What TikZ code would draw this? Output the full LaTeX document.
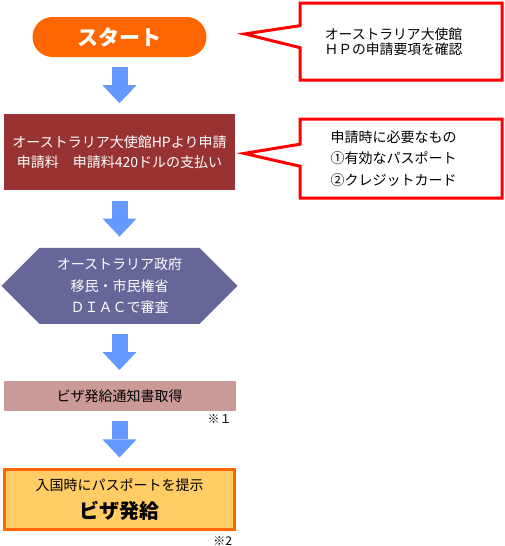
\documentclass[tikz,border=0pt]{standalone}
\usepackage{fontspec}
\setmainfont{Noto Sans CJK JP}
\usetikzlibrary{shapes.geometric, shapes.symbols, shapes.callouts, arrows.meta, positioning}
\definecolor{startorange}{HTML}{FF6600}
\definecolor{applyred}{HTML}{993333}
\definecolor{reviewpurple}{HTML}{666699}
\definecolor{noticepink}{HTML}{CC9999}
\definecolor{issueyellow}{HTML}{FFCC66}
\definecolor{flowblue}{HTML}{6699FF}
\definecolor{bubblered}{HTML}{FF0000}
% pushes callout text a little to the left
\newcommand{\padr}{\kern15pt}

\begin{document}
\begin{tikzpicture}[
    node distance=57pt,
    stepbox/.style={rectangle, minimum width=231pt, align=center, inner sep=0pt},
    bubble/.style={rectangle callout, draw=bubblered, line width=3pt, fill=white, minimum width=202pt, align=center, callout pointer width=22pt, inner sep=0pt},
    flow/.style={draw=flowblue, line width=16pt, shorten <=10pt, shorten >=11pt, -{Triangle[width=34pt, length=18pt, line width=0pt]}},
    note/.style={inner sep=0pt, font=\fontsize{12}{12}\selectfont}
]
\path[use as bounding box, fill=white] (0,0) rectangle (505pt,-546pt);

\node[rectangle, rounded corners=20pt, fill=startorange, text=white, minimum width=174pt, minimum height=40pt, font=\fontsize{21}{21}\selectfont\bfseries] (start) at (119.5pt,-37pt) {スタート};
\node[stepbox, below=of start, fill=applyred, text=white, minimum height=76pt, font=\fontsize{14}{20}\selectfont] (apply) {オーストラリア大使館HPより申請\\申請料　申請料420ドルの支払い};
\node[signal, signal to=west and east, signal pointer angle=90, below=of apply, fill=reviewpurple, text=white, minimum width=236pt, minimum height=76pt, align=center, inner sep=0pt, font=\fontsize{14}{21.5}\selectfont] (review) {オーストラリア政府\\移民・市民権省\\ＤＩＡＣで審査};
\node[stepbox, below=of review, fill=noticepink, minimum width=232pt, minimum height=30pt, font=\fontsize{14}{14}\selectfont] (notice) {ビザ発給通知書取得};
\node[stepbox, below=of notice, fill=issueyellow, draw=startorange, line width=3pt, minimum width=229.5pt, minimum height=59.5pt] (issue) {{\fontsize{14}{14}\selectfont 入国時にパスポートを提示}\\[8pt]{\fontsize{20}{20}\selectfont\bfseries ビザ発給}};

\node[bubble, minimum height=77pt, font=\fontsize{13.8}{15}\selectfont, callout absolute pointer={([xshift=38pt,yshift=3pt]start.east)}] (check) at (401pt,-41.5pt) {オーストラリア大使館\padr\\ＨＰの申請要項を確認\padr};
\node[bubble, minimum height=79pt, font=\fontsize{14}{21.5}\selectfont, callout absolute pointer={([xshift=9pt,yshift=-1pt]apply.east)}] (need) at (401pt,-158.5pt) {申請時に必要なもの\padr\\①有効なパスポート\padr\\②クレジットカード\padr};

\node[note, below left=3pt and 4pt of notice.south east] (mark1) {※１};
\node[note, below left=6pt and 3.5pt of issue.south east] (mark2) {※2};

\draw[flow] (start.south) -- (apply.north);
\draw[flow] (apply.south) -- (review.north);
\draw[flow] (review.south) -- (notice.north);
\draw[flow] (notice.south) -- (issue.north);
\end{tikzpicture}
\end{document}
